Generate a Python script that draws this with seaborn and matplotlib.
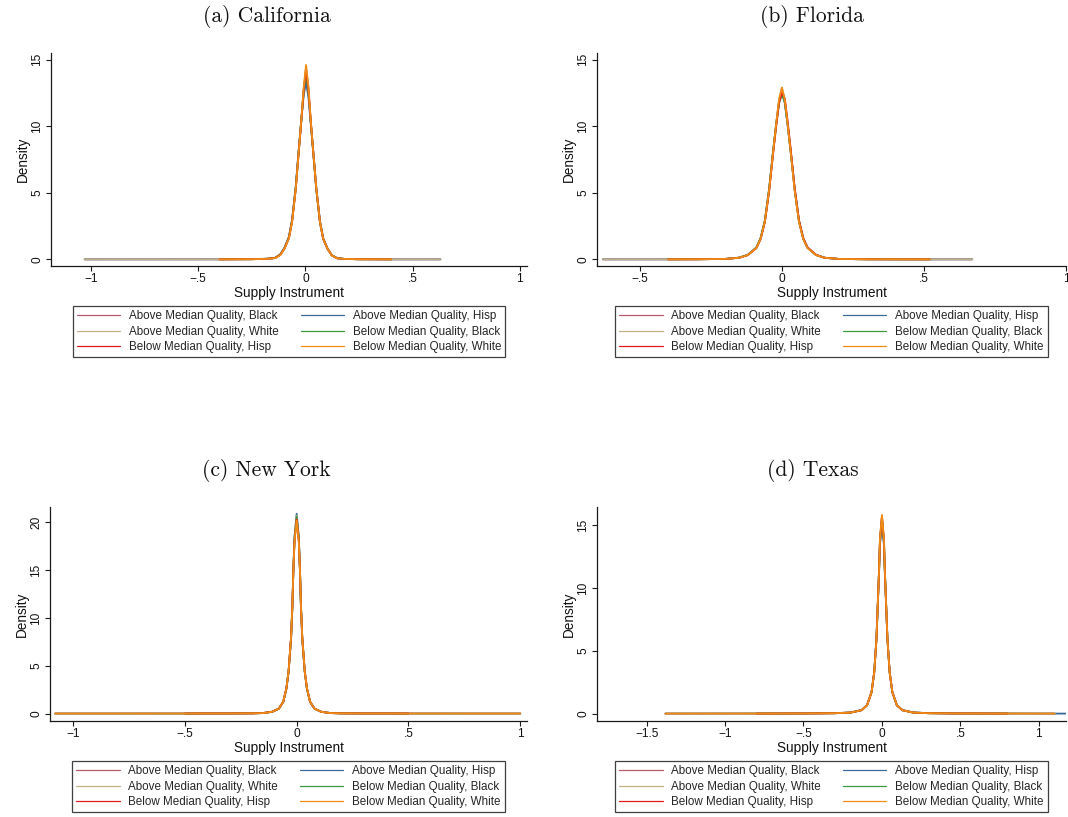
import matplotlib
matplotlib.use("Agg")
import matplotlib.pyplot as plt
from matplotlib.lines import Line2D
import numpy as np
import pandas as pd
import seaborn as sns

nan = float("nan")

GROUPS = [
    "Above Median Quality, Black",
    "Above Median Quality, Hisp",
    "Above Median Quality, White",
    "Below Median Quality, Black",
    "Below Median Quality, Hisp",
    "Below Median Quality, White",
]
COLORS = ["#b5596b", "#3a6a9c", "#c2b188", "#3b9a3f", "#e41a1c", "#f08c16"]

# ---------------- (a) California ----------------
X_CA = [-1.03, -0.40, -0.25, -0.177, -0.142, -0.117, -0.097, -0.077, -0.062, -0.045, -0.032, -0.019, -0.008,
        0.003, 0.014, 0.025, 0.038, 0.051, 0.068, 0.083, 0.103, 0.123, 0.148, 0.183, 0.25, 0.40, 0.63]
CA_AB = [0, 0.002, 0.012, 0.04, 0.10, 0.35, 0.85, 1.62, 2.9, 5.35, 7.95, 10.4, 12.6, 14.1, 12.7, 10.3, 7.8, 5.25, 2.78, 1.52, 0.78, 0.3, 0.08, 0.03, 0.008, 0.002, 0]
CA_AH = [0, 0.003, 0.013, 0.045, 0.11, 0.38, 0.9, 1.7, 3.0, 5.5, 8.1, 10.5, 12.3, 13.3, 12.2, 10.2, 7.9, 5.4, 2.9, 1.6, 0.82, 0.32, 0.09, 0.03, 0.01, 0.002, 0]
CA_AW = [0, 0.002, 0.01, 0.04, 0.09, 0.33, 0.82, 1.58, 2.83, 5.28, 7.88, 10.4, 12.8, 14.4, 12.9, 10.4, 7.8, 5.3, 2.8, 1.54, 0.8, 0.3, 0.08, 0.03, 0.008, 0.002, 0]
CA_BB = [nan, 0.003, 0.012, 0.05, 0.11, 0.36, 0.86, 1.65, 2.92, 5.4, 8.0, 10.5, 12.6, 14.0, 12.6, 10.3, 7.7, 5.2, 2.78, 1.55, 0.82, 0.31, 0.09, 0.03, 0.009, 0.002, nan]
CA_BH = [nan, 0.002, 0.011, 0.04, 0.1, 0.34, 0.84, 1.6, 2.86, 5.3, 7.9, 10.4, 12.7, 14.3, 12.8, 10.4, 7.8, 5.3, 2.8, 1.55, 0.8, 0.3, 0.08, 0.03, 0.008, 0.002, nan]
CA_BW = [nan, 0.002, 0.01, 0.04, 0.09, 0.32, 0.82, 1.58, 2.83, 5.28, 7.9, 10.45, 12.9, 14.6, 13.0, 10.45, 7.8, 5.3, 2.8, 1.55, 0.8, 0.3, 0.08, 0.03, 0.008, 0.002, nan]

# ---------------- (b) Florida ----------------
X_FL = [-0.63, -0.40, -0.30, -0.20, -0.15, -0.12, -0.09, -0.075, -0.06, -0.045, -0.032, -0.02, -0.01, 0.0,
        0.01, 0.02, 0.032, 0.045, 0.06, 0.075, 0.09, 0.12, 0.15, 0.20, 0.30, 0.52, 0.67]
FL_AB = [0, 0.002, 0.006, 0.03, 0.12, 0.33, 0.87, 1.58, 2.9, 5.25, 7.9, 10.15, 11.85, 12.6, 11.8, 10.1, 7.85, 5.2, 2.85, 1.55, 0.87, 0.33, 0.12, 0.03, 0.006, 0.001, 0]
FL_AH = [0, 0.002, 0.007, 0.03, 0.13, 0.34, 0.88, 1.6, 2.9, 5.3, 7.95, 10.2, 11.8, 12.5, 11.8, 10.1, 7.9, 5.25, 2.88, 1.57, 0.88, 0.33, 0.12, 0.03, 0.006, 0.001, 0]
FL_AW = [0, 0.002, 0.006, 0.03, 0.12, 0.32, 0.85, 1.55, 2.85, 5.2, 7.85, 10.2, 12.0, 12.9, 12.0, 10.2, 7.85, 5.15, 2.82, 1.52, 0.86, 0.32, 0.12, 0.03, 0.006, 0.001, 0]
FL_BB = [nan, 0.002, 0.007, 0.03, 0.13, 0.34, 0.88, 1.6, 2.92, 5.3, 7.95, 10.2, 11.75, 12.4, 11.8, 10.15, 7.9, 5.25, 2.9, 1.58, 0.88, 0.33, 0.12, 0.03, 0.006, 0.001, nan]
FL_BH = [nan, 0.002, 0.006, 0.03, 0.12, 0.32, 0.84, 1.52, 2.8, 5.1, 7.75, 10.05, 11.8, 12.5, 12.1, 10.4, 8.05, 5.35, 2.95, 1.6, 0.9, 0.34, 0.12, 0.03, 0.006, 0.001, nan]
FL_BW = [nan, 0.002, 0.006, 0.03, 0.12, 0.32, 0.85, 1.55, 2.85, 5.2, 7.85, 10.25, 12.05, 12.9, 12.0, 10.2, 7.85, 5.15, 2.82, 1.52, 0.86, 0.32, 0.12, 0.03, 0.006, 0.001, nan]

# ---------------- (c) New York ----------------
X_NY = [-1.08, -0.50, -0.30, -0.20, -0.15, -0.11, -0.08, -0.06, -0.046, -0.036, -0.025, -0.019, -0.015, -0.0095, 0.0,
        0.0095, 0.015, 0.019, 0.025, 0.036, 0.046, 0.06, 0.08, 0.11, 0.15, 0.20, 0.30, 0.50, 1.00]
NY_AB = [0, 0.003, 0.01, 0.02, 0.05, 0.18, 0.5, 1.22, 2.6, 4.4, 7.9, 11.3, 14.8, 18.2, 20.5, 18.2, 14.8, 11.3, 7.9, 4.4, 2.6, 1.22, 0.5, 0.18, 0.05, 0.02, 0.01, 0.003, 0]
NY_AH = [0, 0.003, 0.012, 0.025, 0.06, 0.19, 0.52, 1.24, 2.62, 4.4, 7.85, 11.2, 14.9, 18.5, 20.9, 18.5, 14.9, 11.2, 7.85, 4.4, 2.62, 1.24, 0.52, 0.19, 0.06, 0.025, 0.012, 0.003, 0]
NY_AW = [0, 0.003, 0.01, 0.02, 0.05, 0.18, 0.5, 1.22, 2.6, 4.4, 7.9, 11.3, 14.9, 18.4, 20.7, 18.4, 14.9, 11.3, 7.9, 4.4, 2.6, 1.22, 0.5, 0.18, 0.05, 0.02, 0.01, 0.003, 0]
NY_BB = [nan, 0.003, 0.01, 0.02, 0.05, 0.18, 0.5, 1.2, 2.58, 4.42, 7.95, 11.35, 14.85, 18.3, 20.6, 18.3, 14.85, 11.35, 7.95, 4.42, 2.58, 1.2, 0.5, 0.18, 0.05, 0.02, 0.01, 0.003, nan]
NY_BH = [nan, 0.003, 0.01, 0.02, 0.05, 0.18, 0.51, 1.23, 2.62, 4.45, 8.0, 11.4, 14.8, 18.1, 20.3, 18.1, 14.8, 11.4, 8.0, 4.45, 2.62, 1.23, 0.51, 0.18, 0.05, 0.02, 0.01, 0.003, nan]
NY_BW = [0, 0.003, 0.01, 0.02, 0.05, 0.18, 0.51, 1.24, 2.64, 4.46, 8.0, 11.4, 14.8, 18.0, 20.2, 18.0, 14.8, 11.4, 8.0, 4.46, 2.64, 1.24, 0.51, 0.18, 0.05, 0.02, 0.01, 0.003, 0]

# ---------------- (d) Texas ----------------
X_TX = [-1.38, -0.80, -0.50, -0.30, -0.20, -0.13, -0.095, -0.066, -0.049, -0.035, -0.027, -0.019, -0.0127, 0.0,
        0.0127, 0.019, 0.027, 0.035, 0.049, 0.066, 0.095, 0.13, 0.20, 0.30, 0.50, 0.80, 1.10, 1.17]
TX_AB = [0, 0.003, 0.01, 0.03, 0.08, 0.27, 0.66, 1.72, 3.32, 5.95, 8.55, 11.1, 13.6, 15.5, 13.6, 11.1, 8.55, 5.95, 3.32, 1.72, 0.66, 0.27, 0.08, 0.03, 0.01, 0.003, 0, nan]
TX_AH = [0, 0.004, 0.012, 0.035, 0.09, 0.28, 0.68, 1.75, 3.35, 5.95, 8.5, 11.0, 13.4, 15.2, 13.4, 11.0, 8.5, 5.95, 3.35, 1.75, 0.68, 0.28, 0.09, 0.035, 0.012, 0.004, 0, 0]
TX_AW = [0, 0.003, 0.01, 0.03, 0.08, 0.27, 0.66, 1.71, 3.3, 5.94, 8.58, 11.22, 13.87, 15.8, 13.87, 11.22, 8.58, 5.94, 3.3, 1.71, 0.66, 0.27, 0.08, 0.03, 0.01, 0.003, 0, nan]
TX_BB = [nan, 0.003, 0.01, 0.03, 0.08, 0.27, 0.66, 1.7, 3.3, 5.95, 8.6, 11.2, 13.7, 15.6, 13.7, 11.2, 8.6, 5.95, 3.3, 1.7, 0.66, 0.27, 0.08, 0.03, 0.01, 0.003, nan, nan]
TX_BH = [nan, 0.003, 0.01, 0.03, 0.08, 0.27, 0.66, 1.71, 3.3, 5.94, 8.58, 11.2, 13.8, 15.7, 13.8, 11.2, 8.58, 5.94, 3.3, 1.71, 0.66, 0.27, 0.08, 0.03, 0.01, 0.003, nan, nan]
TX_BW = [0, 0.003, 0.01, 0.03, 0.08, 0.27, 0.66, 1.71, 3.3, 5.94, 8.58, 11.22, 13.87, 15.8, 13.87, 11.22, 8.58, 5.94, 3.3, 1.71, 0.66, 0.27, 0.08, 0.03, 0.01, 0.003, 0, nan]

TITLES = ["(a) California", "(b) Florida", "(c) New York", "(d) Texas"]
XLABEL = "Supply Instrument"
YLABEL = "Density"

XTICKS = [[-1, -0.5, 0, 0.5, 1], [-0.5, 0, 0.5, 1], [-1, -0.5, 0, 0.5, 1], [-1.5, -1, -0.5, 0, 0.5, 1]]
XTICKLABELS = [["\u22121", "\u2212.5", "0", ".5", "1"], ["\u2212.5", "0", ".5", "1"],
               ["\u22121", "\u2212.5", "0", ".5", "1"], ["\u22121.5", "\u22121", "\u2212.5", "0", ".5", "1"]]
YTICKS = [[0, 5, 10, 15], [0, 5, 10, 15], [0, 5, 10, 15, 20], [0, 5, 10, 15]]
YTICKLABELS = [["0", "5", "10", "15"], ["0", "5", "10", "15"], ["0", "5", "10", "15", "20"], ["0", "5", "10", "15"]]

PANEL_X = [X_CA, X_FL, X_NY, X_TX]
PANEL_Y = [
    [CA_AB, CA_AH, CA_AW, CA_BB, CA_BH, CA_BW],
    [FL_AB, FL_AH, FL_AW, FL_BB, FL_BH, FL_BW],
    [NY_AB, NY_AH, NY_AW, NY_BB, NY_BH, NY_BW],
    [TX_AB, TX_AH, TX_AW, TX_BB, TX_BH, TX_BW],
]

# ---------------- layout (pixels of a 1068 x 817 canvas) ----------------
W, H = 1068, 817
AX_BOX = [  # left, right, top, bottom
    (51, 527, 53, 266),
    (597, 1066, 53, 266),
    (50, 527, 507, 721),
    (597, 1066, 507, 721),
]
XLIMS = [(-1.187, 1.034), (-0.651, 1.0), (-1.103, 1.03), (-1.816, 1.173)]
YLIMS = [(-0.5, 15.5), (-0.5, 15.5), (-0.78, 21.6), (-0.59, 16.45)]
TITLE_POS = [(267, 17), (812, 17), (266, 471), (813, 471)]
LEGEND_TOP = [306, 306, 761, 761]

sns.set_theme(style="ticks")
plt.rcParams["font.family"] = ["Liberation Sans", "DejaVu Sans"]

fig = plt.figure(figsize=(W / 100, H / 100), dpi=100)
axcol = "#1a1a1a"

for i in range(4):
    l, r, t, b = AX_BOX[i]
    ax = fig.add_axes([l / W, 1 - b / H, (r - l) / W, (b - t) / H])
    rows = []
    for g, ys in zip(GROUPS, PANEL_Y[i]):
        for xv, yv in zip(PANEL_X[i], ys):
            rows.append((g, xv, yv))
    df = pd.DataFrame(rows, columns=["group", "x", "density"])
    sns.lineplot(data=df, x="x", y="density", hue="group", hue_order=GROUPS,
                 palette=COLORS, estimator=None, sort=False, lw=1.3,
                 legend=False, ax=ax)
    ax.set_xlim(*XLIMS[i])
    ax.set_ylim(*YLIMS[i])
    sns.despine(ax=ax)
    for s in ["left", "bottom"]:
        ax.spines[s].set_color(axcol)
        ax.spines[s].set_linewidth(0.9)
    ax.set_xticks(XTICKS[i])
    ax.set_xticklabels(XTICKLABELS[i])
    ax.set_yticks(YTICKS[i])
    ax.set_yticklabels(YTICKLABELS[i], rotation=90, va="center")
    ax.tick_params(axis="both", direction="out", length=3.5, width=0.8, color=axcol,
                   labelsize=8.6, labelcolor="#111111")
    ax.tick_params(axis="x", pad=1.8)
    ax.tick_params(axis="y", pad=2.2)
    ax.set_xlabel(XLABEL, fontsize=9.8, labelpad=0.6, color="#111111")
    ax.set_ylabel(YLABEL, fontsize=9.8, labelpad=0.8, color="#111111")
    ax.grid(False)

    tx, ty = TITLE_POS[i]
    fig.text(tx / W, 1 - ty / H, TITLES[i], family="cmr10", fontsize=15.5,
             ha="center", va="center", color="#111111")

    order = [0, 2, 4, 1, 3, 5]
    handles = [Line2D([], [], color=COLORS[k], lw=0.9) for k in order]
    labels = [GROUPS[k] for k in order]
    cx = (l + r) / 2
    leg = fig.legend(handles, labels, ncol=2, loc="upper center",
                     bbox_to_anchor=(cx / W, 1 - LEGEND_TOP[i] / H),
                     bbox_transform=fig.transFigure, frameon=True, fancybox=False,
                     edgecolor="#111111", fontsize=8.4, handlelength=3.7,
                     handletextpad=0.75, columnspacing=1.9, labelspacing=0.28,
                     borderpad=0.37, borderaxespad=0)
    leg.get_frame().set_linewidth(0.9)

fig.savefig("out.png", dpi=100)
